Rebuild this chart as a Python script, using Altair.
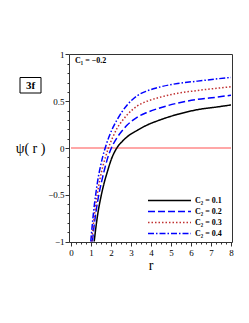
import altair as alt
import pandas as pd

# ---- data ----
labels = ["C₂ = 0.1", "C₂ = 0.2", "C₂ = 0.3", "C₂ = 0.4"]

r_01 = [1.16, 1.25, 1.35, 1.5, 1.65, 1.81, 2.0, 2.29, 2.56, 2.81, 3.32, 3.8, 4.32, 5.33, 6.33, 7.34, 8.0]
p_01 = [-1.0, -0.84, -0.69, -0.52, -0.38, -0.26, -0.13, 0.0, 0.07, 0.12, 0.19, 0.245, 0.29, 0.36, 0.41, 0.44, 0.46]

r_02 = [1.07, 1.15, 1.25, 1.39, 1.55, 1.7, 1.85, 2.02, 2.3, 2.56, 2.81, 3.32, 3.8, 4.32, 5.33, 6.33, 7.34, 8.0]
p_02 = [-1.0, -0.84, -0.68, -0.5, -0.34, -0.21, -0.095, 0.0, 0.11, 0.185, 0.245, 0.33, 0.38, 0.42, 0.48, 0.52, 0.545, 0.565]

r_03 = [1.03, 1.1, 1.2, 1.31, 1.45, 1.6, 1.75, 1.87, 2.1, 2.3, 2.56, 2.81, 3.32, 3.8, 4.32, 5.33, 6.33, 7.34, 8.0]
p_03 = [-1.0, -0.85, -0.67, -0.5, -0.33, -0.19, -0.08, 0.0, 0.12, 0.21, 0.29, 0.355, 0.45, 0.5, 0.535, 0.585, 0.615, 0.64, 0.655]

r_04 = [0.99, 1.06, 1.14, 1.24, 1.35, 1.47, 1.59, 1.71, 1.9, 2.1, 2.3, 2.56, 2.81, 3.32, 3.8, 4.32, 5.33, 6.33, 7.34, 8.0]
p_04 = [-1.0, -0.83, -0.66, -0.49, -0.33, -0.2, -0.09, 0.0, 0.12, 0.22, 0.3, 0.39, 0.46, 0.56, 0.61, 0.645, 0.69, 0.715, 0.74, 0.755]

zero_r = [0, 8]
zero_p = [0, 0]

x_ticks = [i * 0.25 for i in range(0, 33)]
y_ticks = [round(-1 + i * 0.1, 2) for i in range(21)]

# ---- styles ----
colors = ["#000000", "#0000ff", "#c03030", "#0000ff"]
dashes = [[1, 0], [7, 3], [1.5, 2], [6, 2, 1.5, 2]]
FONT = "Liberation Serif"

rows = []
for lab, rs, ps in zip(labels, [r_01, r_02, r_03, r_04], [p_01, p_02, p_03, p_04]):
    for i, (r, p) in enumerate(zip(rs, ps)):
        rows.append({"series": lab, "r": r, "psi": p, "order": i})
df = pd.DataFrame(rows)
zdf = pd.DataFrame({"r": zero_r, "psi": zero_p})

xscale = alt.Scale(domain=[-0.1, 8.05], nice=False, zero=False)
yscale = alt.Scale(domain=[-1.005, 1.005], nice=False, zero=False)

x_major = "abs(datum.value - round(datum.value)) < 0.001"
y_major = "abs(datum.value * 2 - round(datum.value * 2)) < 0.001"

xaxis = alt.Axis(
    values=x_ticks,
    labelExpr=f"{x_major} ? format(datum.value, '~g') : ''",
    tickSize={"condition": {"test": x_major, "value": 4}, "value": 2},
    title="r", titleFont=FONT, titleFontSize=14, titleFontWeight="normal",
    titlePadding=1, labelFont=FONT, labelFontSize=9, labelPadding=2,
    labelColor="black", titleColor="black", grid=False, domain=False,
    tickColor="#333333", labelFlush=False, labelOverlap=False,
)
yaxis = alt.Axis(
    values=y_ticks,
    labelExpr=f"{y_major} ? format(datum.value, '~g') : ''",
    tickSize={"condition": {"test": y_major, "value": 4}, "value": 2},
    title="ψ( r )", titleFont=FONT, titleFontSize=14, titleFontWeight="normal",
    titleAngle=0, titleAlign="center", titleBaseline="middle",
    titleX=-39, titleY=94, labelFont=FONT, labelFontSize=9, labelPadding=1,
    labelColor="black", titleColor="black", grid=False, domain=False,
    tickColor="#333333", labelFlush=False, labelOverlap=False,
)

leg = dict(
    orient="none", legendX=78, legendY=141, title=None,
    symbolType="stroke", symbolSize=1849, symbolStrokeWidth=1.5,
    clipHeight=11, labelFont=FONT, labelFontSize=8, labelFontWeight="bold",
    labelColor="black", labelOffset=3, rowPadding=0, padding=0,
)

zero = alt.Chart(zdf).mark_line(color="#ff8a8a", strokeWidth=1.5).encode(
    x=alt.X("r:Q", scale=xscale, axis=xaxis),
    y=alt.Y("psi:Q", scale=yscale, axis=yaxis),
)

lines = alt.Chart(df).mark_line(strokeWidth=1.5, interpolate="monotone").encode(
    x=alt.X("r:Q", scale=xscale, axis=xaxis),
    y=alt.Y("psi:Q", scale=yscale, axis=yaxis),
    color=alt.Color("series:N", scale=alt.Scale(domain=labels, range=colors), legend=alt.Legend(**leg)),
    strokeDash=alt.StrokeDash("series:N", scale=alt.Scale(domain=labels, range=dashes), legend=alt.Legend(**leg)),
    order="order:Q",
)

tag = pd.DataFrame({"t": ["3f"]})
box = alt.Chart(tag).mark_rect(filled=False, stroke="black", strokeWidth=1).encode(
    x=alt.value(-49), x2=alt.value(-28), y=alt.value(23.5), y2=alt.value(39)
)
tag_text = alt.Chart(tag).mark_text(font=FONT, fontSize=11, fontWeight="bold", color="black",
                                    align="center", baseline="middle").encode(
    x=alt.value(-38.5), y=alt.value(31.5), text="t:N"
)

c1 = pd.DataFrame({"t": ["C₁ = −0.2"]})
c1_text = alt.Chart(c1).mark_text(font=FONT, fontSize=8, fontWeight="bold", color="black",
                                  align="left", baseline="middle").encode(
    x=alt.value(6), y=alt.value(7), text="t:N"
)

chart = alt.layer(zero, lines, box, tag_text, c1_text).properties(
    width=163, height=188,
    padding={"left": 7, "top": 42, "right": 5, "bottom": 5},
).configure_view(stroke="#333333", strokeWidth=1)

chart.save("out.html", embed_options={"renderer": "svg", "actions": False})
